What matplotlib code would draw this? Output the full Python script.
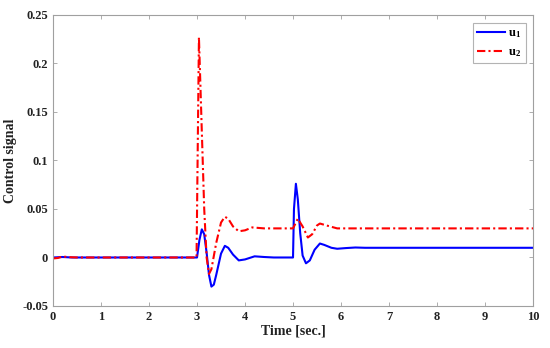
import numpy as np
import matplotlib
matplotlib.use('Agg')
import matplotlib.pyplot as plt

plt.rcParams['font.family'] = ['Liberation Serif', 'DejaVu Serif']
plt.rcParams['font.weight'] = 'bold'
plt.rcParams['mathtext.fontset'] = 'custom'
plt.rcParams['mathtext.rm'] = 'Liberation Serif:bold'
plt.rcParams['mathtext.it'] = 'Liberation Serif:bold'
plt.rcParams['mathtext.bf'] = 'Liberation Serif:bold'

# u1 (blue, solid)
t_u1 = [0, 0.2, 0.4, 3.0, 3.05, 3.1, 3.15, 3.2, 3.25, 3.3, 3.35, 3.4, 3.5, 3.58,
        3.65, 3.75, 3.87, 4.0, 4.2, 4.4, 4.6, 5.0, 5.02, 5.06, 5.1, 5.15, 5.2, 5.27,
        5.35, 5.45, 5.56, 5.65, 5.8, 5.92, 6.1, 6.3, 6.5, 10]
u1 = [0, 0.0005, 0, 0, 0.018, 0.029, 0.024, 0.005, -0.018, -0.030, -0.028, -0.018,
      0.004, 0.012, 0.010, 0.003, -0.003, -0.002, 0.0012, 0.0005, 0, 0, 0.05, 0.076,
      0.06, 0.025, 0.002, -0.006, -0.003, 0.008, 0.0144, 0.013, 0.010, 0.009, 0.0097,
      0.0103, 0.010, 0.010]

# u2 (red, dash-dot)
t_u2 = [0, 0.1, 0.2, 0.35, 0.5, 2.99, 3.04, 3.1, 3.15, 3.2, 3.25, 3.3, 3.4, 3.5,
        3.58, 3.65, 3.75, 3.87, 4.0, 4.15, 4.4, 5.0, 5.05, 5.1, 5.2, 5.31, 5.4, 5.5,
        5.56, 5.7, 5.92, 6.1, 10]
u2 = [-0.001, -0.0005, 0.001, 0.0003, 0, 0, 0.227, 0.13, 0.05, 0.0, -0.017, -0.012,
      0.015, 0.036, 0.042, 0.040, 0.032, 0.027, 0.028, 0.031, 0.030, 0.030, 0.035,
      0.040, 0.032, 0.0206, 0.024, 0.033, 0.035, 0.033, 0.030, 0.030, 0.030]

fig = plt.figure(figsize=(5.5, 3.48), dpi=100)
ax = fig.add_axes([0.0964, 0.1207, 0.8727, 0.8363])

ax.plot(t_u1, u1, color='#0000ff', lw=1.5, label=r'u$_1$')
ax.plot(t_u2, u2, color='#ff0000', lw=1.5, ls=(0, (4, 1.5, 1, 1.5)), label=r'u$_2$')

ax.set_xlim(0, 10)
ax.set_ylim(-0.05, 0.25)
ax.set_xticks(np.arange(0, 11, 1))
ax.set_yticks([-0.05, 0, 0.05, 0.1, 0.15, 0.2, 0.25])
ax.set_yticklabels(['-0.05', '0', '0.05', '0.1', '0.15', '0.2', '0.25'])
ax.tick_params(direction='in', top=True, right=True, labelsize=9,
               length=3, width=0.6, colors='#a0a0a0', labelcolor='#222222')
for s in ax.spines.values():
    s.set_color('#a0a0a0')
    s.set_linewidth(0.8)

ax.set_xlabel('Time [sec.]', fontsize=10, fontweight='bold', color='#222222', labelpad=1)
ax.set_ylabel('Control signal', fontsize=10, fontweight='bold', color='#222222', labelpad=4)

leg = ax.legend(loc='upper right', fontsize=9, handlelength=2.2, fancybox=False,
                borderpad=0.35, handletextpad=0.3, labelspacing=0.45,
                borderaxespad=0, bbox_to_anchor=(0.985, 0.972))
leg.get_frame().set_edgecolor('#a0a0a0')
leg.get_frame().set_linewidth(0.8)

fig.savefig('out.png', dpi=100)
